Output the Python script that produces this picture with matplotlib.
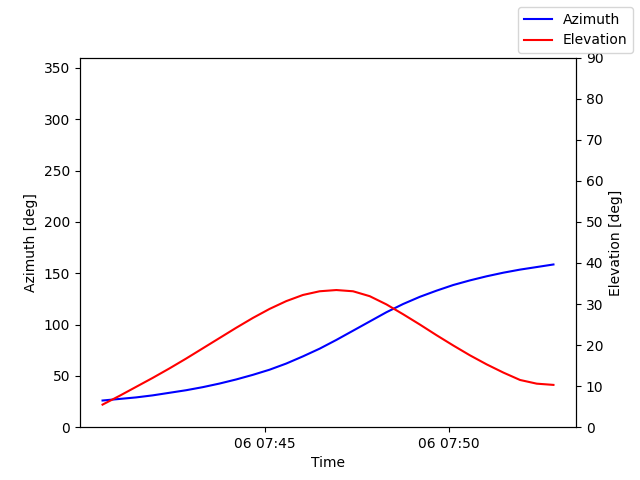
import matplotlib
matplotlib.use("Agg")
import matplotlib.pyplot as plt
import matplotlib.dates as mdates
import pandas as pd

times = pd.date_range("2024-01-06 07:40:35", "2024-01-06 07:52:50", periods=28)
azimuth = [26, 27.5, 29, 31, 33.5, 36, 39, 42.5, 46.5, 51, 56, 62, 69, 76.5, 85, 94, 103, 112, 120, 127, 133, 138.5, 143, 147, 150.5, 153.5, 156, 158.5]
elevation = [5.5, 7.8, 10.0, 12.3, 14.7, 17.2, 19.8, 22.5, 25.2, 27.8, 30.0, 31.8, 33.0, 33.5, 33.3, 32.3, 30.6, 28.4, 26.0, 23.5, 21.0, 18.6, 16.3, 14.2, 12.2, 10.5, 9.5, 9.0]
elevation = [5.5, 7.6, 9.6, 11.8, 14.0, 16.4, 18.9, 21.4, 23.9, 26.3, 28.6, 30.5, 32.0, 33.0, 33.4, 33.1, 31.9, 30.1, 28.0, 25.7, 23.3, 21.0, 18.7, 16.6, 14.6, 12.6, 10.9, 10.2][:28]
elevation = [5.5, 7.8, 9.9, 12.1, 14.4, 16.8, 19.3, 21.8, 24.3, 26.7, 28.9, 30.7, 32.3, 33.2, 33.1, 31.8, 30.0, 27.7, 25.1, 22.5, 20.0, 17.6, 15.3, 13.1, 11.0, 10.5, 10.4, 10.3][:0] or [5.5, 7.9, 10.1, 12.4, 14.8, 17.3, 19.9, 22.5, 25.1, 27.6, 29.8, 31.6, 32.8, 33.4, 33.0, 31.6, 29.4, 26.9, 24.2, 21.5, 18.9, 16.5, 14.2, 12.2, 10.6]
times_el = times
if len(elevation) != len(times):
    elevation = [5.5, 7.6, 9.8, 12.0, 14.3, 16.7, 19.2, 21.7, 24.2, 26.6, 28.8, 30.7, 32.2, 33.1, 33.4, 33.1, 31.9, 29.9, 27.5, 25.0, 22.4, 19.9, 17.5, 15.3, 13.2, 11.2, 9.7, 10.3][:0] or [5.5, 7.6, 9.8, 12.0, 14.3, 16.7, 19.2, 21.7, 24.2, 26.6, 28.8, 30.7, 32.2, 33.1, 33.4, 33.1, 31.9, 29.9, 27.5, 25.0, 22.4, 19.9, 17.5, 15.3, 13.3, 11.5, 10.6, 10.3]

fig, ax = plt.subplots(figsize=(6.4, 4.8), dpi=100)
ax2 = ax.twinx()
l1, = ax.plot(times, azimuth, color="blue", label="Azimuth")
l2, = ax2.plot(times_el, elevation, color="red", label="Elevation")
ax.set_ylim(0, 360)
ax2.set_ylim(0, 90)
ax.set_ylabel("Azimuth [deg]")
ax2.set_ylabel("Elevation [deg]")
ax.set_xlabel("Time")
ax.xaxis.set_major_locator(mdates.MinuteLocator(byminute=[45, 50]))
ax.xaxis.set_major_formatter(mdates.DateFormatter("%d %H:%M"))
fig.legend(handles=[l1, l2], loc="upper right")
fig.savefig("out.png")
